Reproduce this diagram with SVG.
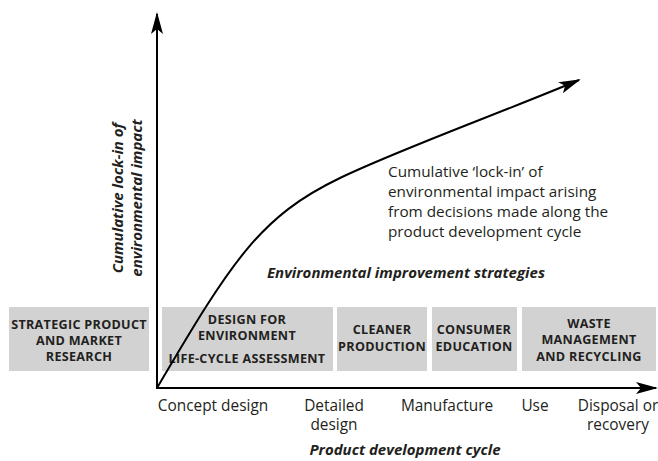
<svg xmlns="http://www.w3.org/2000/svg" width="658" height="461" viewBox="0 0 658 461">
<style>
text{font-family:"Open Sans","Noto Sans","Liberation Sans",sans-serif;fill:#231f20}
.box{fill:#d2d2d2}
.bt{font-size:12.6px;font-weight:bold;text-anchor:middle;letter-spacing:0.3px}
.ax{font-size:15.4px}
.an{font-size:15.3px}
.ti{font-size:15px;font-weight:bold;font-style:italic}
.ln{fill:none;stroke:#000;stroke-width:2}
</style>
<defs>
<marker id="ah2" markerWidth="22" markerHeight="12" refX="20" refY="6" orient="auto" markerUnits="userSpaceOnUse">
<path d="M0,0 L22,6 L0,12 L5,6 Z" fill="#000"/>
</marker>
</defs>
<g id="box-strategic"><rect class="box" x="9" y="307" width="140" height="64"/>
<text class="bt" x="79" y="329">STRATEGIC PRODUCT</text><text class="bt" x="79" y="345">AND MARKET</text><text class="bt" x="79" y="361">RESEARCH</text></g>
<g id="box-dfe"><rect class="box" x="162" y="307" width="171" height="64"/>
<text class="bt" x="247" y="324">DESIGN FOR</text><text class="bt" x="247" y="340">ENVIRONMENT</text><text class="bt" x="247" y="363">LIFE-CYCLE ASSESSMENT</text></g>
<g id="box-cleaner"><rect class="box" x="337" y="307" width="90" height="64"/>
<text class="bt" x="382" y="334">CLEANER</text><text class="bt" x="382" y="351">PRODUCTION</text></g>
<g id="box-consumer"><rect class="box" x="432" y="307" width="85" height="64"/>
<text class="bt" x="474" y="334">CONSUMER</text><text class="bt" x="474" y="351">EDUCATION</text></g>
<g id="box-waste"><rect class="box" x="522" y="307" width="134" height="64"/>
<text class="bt" x="589" y="328">WASTE</text><text class="bt" x="589" y="344">MANAGEMENT</text><text class="bt" x="589" y="361">AND RECYCLING</text></g>
<g id="connectors">
<path class="ln" d="M157,389 L157,14" marker-end="url(#ah2)"/>
<path class="ln" d="M156,388 L656,388" marker-end="url(#ah2)"/>
<path class="ln" d="M157,388 C232,260.5 260,216.4 340,178 C400,149.2 499,113.6 579,80" stroke-width="1.6" marker-end="url(#ah2)"/>
</g>
<g id="labels">
<text class="ti" transform="translate(123,198) rotate(-90)" text-anchor="middle"><tspan x="0" y="0">Cumulative lock-in of</tspan><tspan x="0" y="19">environmental impact</tspan></text>
<text class="ti" x="406" y="278" text-anchor="middle">Environmental improvement strategies</text>
<text class="an" x="388" y="177">Cumulative ‘lock-in’ of</text>
<text class="an" x="388" y="197">environmental impact arising</text>
<text class="an" x="388" y="217">from decisions made along the</text>
<text class="an" x="388" y="237">product development cycle</text>
<text class="ax" x="213" y="411" text-anchor="middle">Concept design</text>
<text class="ax" x="334" y="411" text-anchor="middle">Detailed</text>
<text class="ax" x="334" y="430" text-anchor="middle">design</text>
<text class="ax" x="447" y="411" text-anchor="middle">Manufacture</text>
<text class="ax" x="535" y="411" text-anchor="middle">Use</text>
<text class="ax" x="618" y="411" text-anchor="middle">Disposal or</text>
<text class="ax" x="618" y="430" text-anchor="middle">recovery</text>
<text class="ti" x="405" y="455" text-anchor="middle">Product development cycle</text>
</g>
</svg>
